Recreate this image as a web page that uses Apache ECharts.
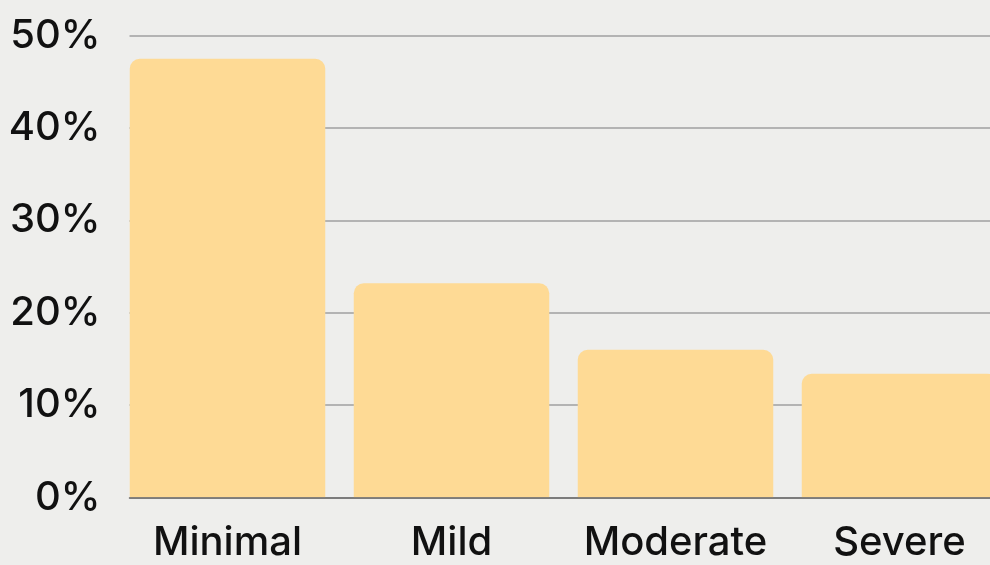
<!DOCTYPE html>
<html>
<head>
<meta charset="utf-8">
<script src="https://cdn.jsdelivr.net/npm/echarts@6/dist/echarts.min.js"></script>
<style>
html,body{margin:0;padding:0;background:#EEEEEC;}
#chart{width:990px;height:565px;}
</style>
</head>
<body>
<div id="chart"></div>
<script>
const categories = ["Minimal", "Mild", "Moderate", "Severe"];
const values = [47.5, 23.2, 16.0, 13.4];
const yTicks = [0, 10, 20, 30, 40, 50];

const chart = echarts.init(document.getElementById('chart'), null, {renderer: 'canvas'});
const font = 'Inter, "Noto Sans", sans-serif';
const option = {
  backgroundColor: '#EEEEEC',
  animation: false,
  grid: [
    {left: 129.5, top: 35.7, width: 882, bottom: 67.5, containLabel: false, outerBoundsMode: 'none'},
    {left: 115.5, top: 35.7, width: 896, bottom: 67.5, containLabel: false, outerBoundsMode: 'none'}
  ],
  xAxis: [
    {type: 'category', gridIndex: 0, data: categories, show: true,
     axisLine: {show: true, lineStyle: {color: '#6b6b6b', width: 1.5}},
     axisTick: {show: false}, axisLabel: {show: false}, splitLine: {show: false}, z: 5},
    {type: 'category', gridIndex: 1, data: categories,
     axisLine: {show: false}, axisTick: {show: false},
     axisLabel: {show: true, interval: 0, color: '#111', fontFamily: font, fontWeight: 500, fontSize: 40, margin: 25}}
  ],
  yAxis: [
    {type: 'value', gridIndex: 0, min: yTicks[0], max: yTicks[yTicks.length - 1], interval: 10,
     axisLine: {show: false}, axisTick: {show: false},
     axisLabel: {color: '#111', fontFamily: font, fontWeight: 500, fontSize: 40, margin: 29, formatter: v => v + '%'},
     splitLine: {show: true, lineStyle: {color: '#b3b3b3', width: 2}}},
    {type: 'value', gridIndex: 1, min: yTicks[0], max: yTicks[yTicks.length - 1], interval: 10,
     show: false, splitLine: {show: false}}
  ],
  series: [{
    type: 'bar', xAxisIndex: 1, yAxisIndex: 1, data: values,
    barWidth: 195.5, z: 2,
    itemStyle: {color: '#FEDA95', borderRadius: [10, 10, 0, 0]}
  }]
};
chart.setOption(option);
</script>
</body>
</html>
